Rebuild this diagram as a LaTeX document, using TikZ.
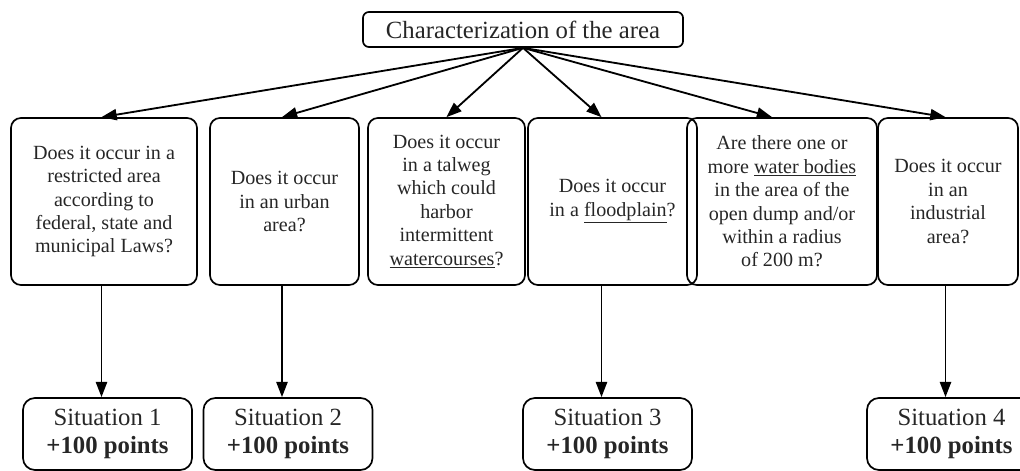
\documentclass[tikz,border=0pt]{standalone}
\usepackage{fontspec}
\setmainfont{Liberation Serif}
\usetikzlibrary{arrows.meta, positioning, calc}
\tikzset{
    qbox/.style={rectangle, draw, rounded corners=0.25cm, line width=1.2pt, minimum height=4.175cm, inner sep=0pt, align=center, text=black!85, font=\fontsize{14.3}{16.6}\selectfont},
    sitbox/.style={rectangle, draw, rounded corners=0.3cm, line width=1.2pt, minimum width=4.225cm, minimum height=1.8cm, inner sep=0pt, align=center, text=black!85, font=\fontsize{17.6}{19.3}\selectfont},
    arrow/.style={line width=1.3pt, -{Triangle[length=3.8mm, width=2.8mm]}}
}

\begin{document}
\begin{tikzpicture}[x=0.025cm, y=-0.025cm]
    \useasboundingbox (0,0) rectangle (1020,471);

    \node (area) [draw, rounded corners=0.15cm, line width=1.2pt, minimum width=8cm, minimum height=0.875cm, inner sep=0pt, text=black!85, font=\fontsize{17.6}{19.3}\selectfont] at (523,29.5) {Characterization of the area};

    % questions
    \node (restricted) [qbox, minimum width=4.65cm]  at (104,201.5)   {Does it occur in a\\restricted area\\according to\\federal, state and\\municipal Laws?};
    \node (urban)      [qbox, minimum width=3.725cm] at (284.5,201.5) {Does it occur\\in an urban\\area?};
    \node (talweg)     [qbox, minimum width=3.925cm] at (446.5,201.5) {Does it occur\\in a talweg\\which could\\harbor\\intermittent\\\underline{watercourses}?};
    \node (flood)      [qbox, minimum width=4.225cm] at (612.5,201.5) {Does it occur\\in a \underline{floodplain}?};
    \node (water)      [qbox, minimum width=4.75cm]  at (782,201.5)   {Are there one or\\more \underline{water bodies}\\in the area of the\\open dump and/or\\within a radius\\of 200 m?};
    \node (industrial) [qbox, minimum width=3.5cm]   at (948,201.5)   {Does it occur\\in an\\industrial\\area?};

    % situations
    \node (sit1) [sitbox] at (107.5,434) {Situation 1\\\textbf{+100 points}};
    \node (sit2) [sitbox] at (288,434)   {Situation 2\\\textbf{+100 points}};
    \node (sit3) [sitbox] at (607.5,434) {Situation 3\\\textbf{+100 points}};
    \node (sit4) [sitbox] at (951.5,434) {Situation 4\\\textbf{+100 points}};

    \draw [arrow] (area.south) -- ([xshift=-1.5mm]sit1.north |- restricted.north);
    \draw [arrow] (area.south) -- ([xshift=-1.5mm]sit2.north |- urban.north);
    \draw [arrow] (area.south) -- (talweg.north);
    \draw [arrow] (area.south) -- ([xshift=-1.5mm]sit3.north |- flood.north);
    \draw [arrow] (area.south) -- ([xshift=-2.5mm]water.north);
    \draw [arrow] (area.south) -- ([xshift=-1.5mm]sit4.north |- industrial.north);

    \draw [arrow] ([xshift=-1.5mm]sit1.north |- restricted.south) -- ([xshift=-1.5mm]sit1.north);
    \draw [arrow] ([xshift=-1.5mm]sit2.north |- urban.south) -- ([xshift=-1.5mm]sit2.north);
    \draw [arrow] ([xshift=-1.5mm]sit3.north |- flood.south) -- ([xshift=-1.5mm]sit3.north);
    \draw [arrow] ([xshift=-1.5mm]sit4.north |- industrial.south) -- ([xshift=-1.5mm]sit4.north);
\end{tikzpicture}
\end{document}
